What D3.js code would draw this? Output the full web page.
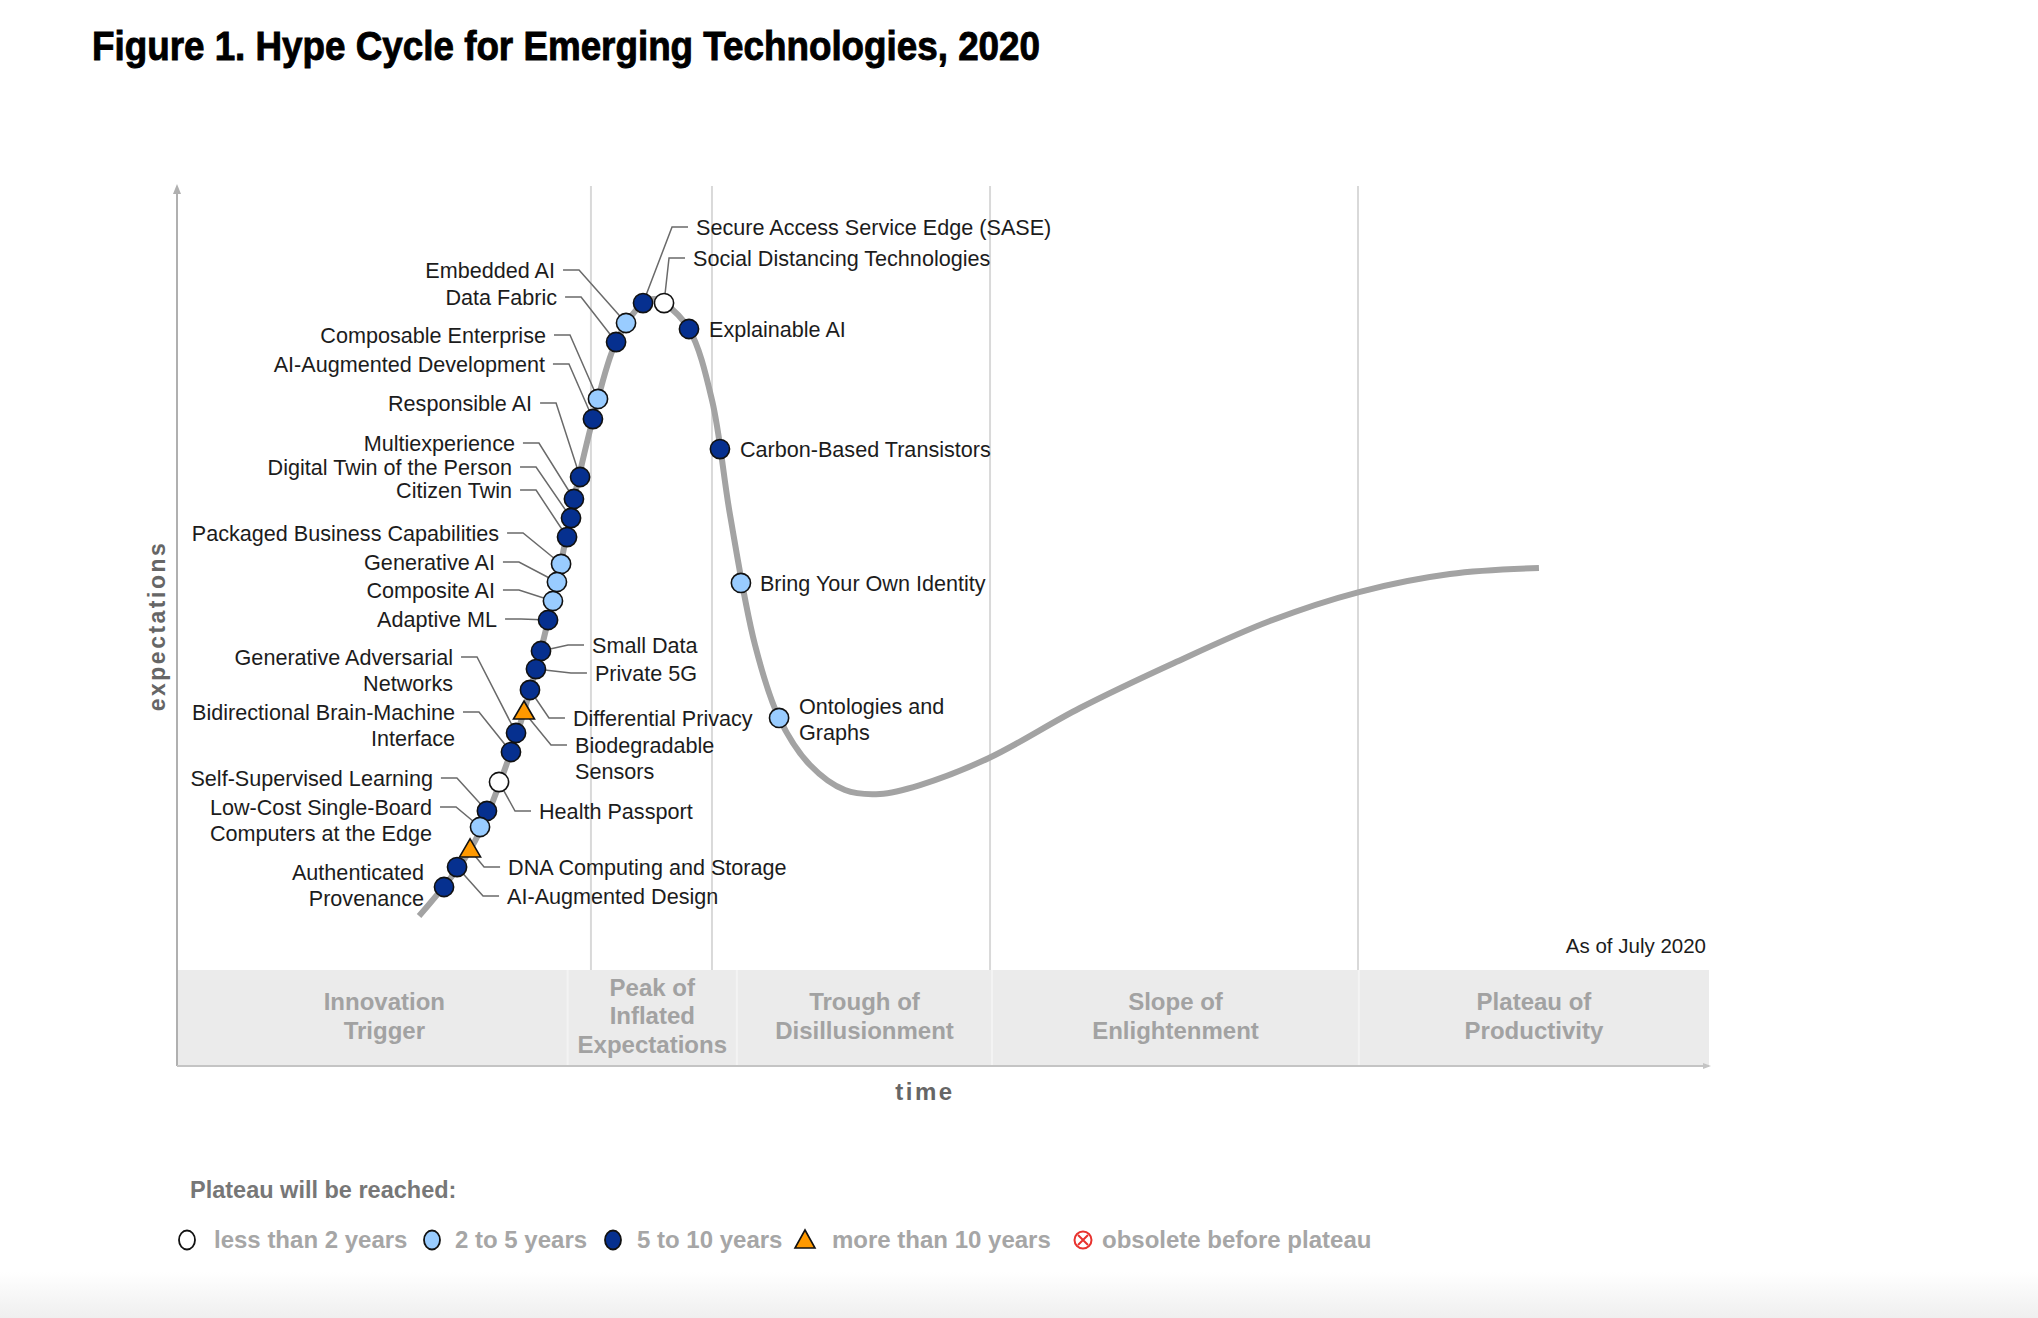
<!DOCTYPE html>
<html><head><meta charset="utf-8">
<script src="https://cdn.jsdelivr.net/npm/d3@7"></script>
<style>
html,body{margin:0;padding:0;background:#fff;}
svg{display:block;}
text{font-family:"Liberation Sans",Arial,Helvetica,sans-serif;}
</style></head><body>
<svg id="chart" width="2038" height="1318"></svg>
<script>
// ---------------- DATA ----------------
const chartTitle = "Figure 1. Hype Cycle for Emerging Technologies, 2020";
const asOfText = "As of July 2020";
const xAxisTitle = "time";
const yAxisTitle = "expectations";
const legendTitle = "Plateau will be reached:";
const categories = ["less than 2 years", "2 to 5 years", "5 to 10 years", "more than 10 years", "obsolete before plateau"];

const phaseNames = [
  ["Innovation", "Trigger"],
  ["Peak of", "Inflated", "Expectations"],
  ["Trough of", "Disillusionment"],
  ["Slope of", "Enlightenment"],
  ["Plateau of", "Productivity"]
];
const phaseBounds = [0, 25.5, 36.55, 53.2, 77.15, 100];   // time units
const gridTimes = [27.02, 34.92, 53.07, 77.09];          // time units

// hype curve (time, expectations)
const curveTime   = [15.80, 19.13, 21.80, 23.43, 24.80, 25.91, 27.15, 28.66, 30.42, 31.20, 31.79, 33.42, 34.92, 36.10, 37.73, 39.30, 41.32, 43.60, 45.89, 48.50, 53.00, 58.94, 65.08, 71.34, 77.15, 83.09, 88.90];
const curveExpect = [17.05, 24.55, 35.68, 45.11, 55.00, 64.43, 73.52, 82.27, 86.70, 87.16, 86.70, 83.75, 75.68, 62.61, 47.84, 39.55, 34.20, 31.36, 30.91, 31.93, 35.00, 40.68, 45.80, 50.57, 53.86, 55.91, 56.59];

// technologies
const techNames = [
  "Secure Access Service Edge (SASE)", "Social Distancing Technologies", "Embedded AI", "Data Fabric",
  "Explainable AI", "Composable Enterprise", "AI-Augmented Development", "Responsible AI",
  "Carbon-Based Transistors", "Multiexperience", "Digital Twin of the Person", "Citizen Twin",
  "Packaged Business Capabilities", "Generative AI", "Composite AI", "Adaptive ML",
  "Bring Your Own Identity", "Small Data", "Private 5G", "Generative Adversarial Networks",
  "Differential Privacy", "Biodegradable Sensors", "Bidirectional Brain-Machine Interface", "Ontologies and Graphs",
  "Self-Supervised Learning", "Health Passport", "Low-Cost Single-Board Computers at the Edge", "DNA Computing and Storage",
  "AI-Augmented Design", "Authenticated Provenance"
];
const techTime = [30.42, 31.79, 29.31, 28.66, 33.42, 27.48, 27.15, 26.31, 35.44, 25.91, 25.72, 25.46, 25.07, 24.80, 24.54, 24.22,
  36.81, 23.76, 23.43, 22.13, 23.04, 22.65, 21.80, 39.30, 20.23, 21.02, 19.78, 19.13, 18.28, 17.43];
const techExpect = [86.70, 86.70, 84.43, 82.27, 83.75, 75.80, 73.52, 66.93, 70.11, 64.43, 62.27, 60.11, 57.05, 55.00, 52.84, 50.68,
  54.89, 47.16, 45.11, 37.84, 42.73, 40.23, 35.68, 39.55, 28.98, 32.27, 27.16, 24.55, 22.61, 20.34];
// index into categories
const techCategory = [2, 0, 1, 2, 2, 1, 2, 2, 2, 2, 2, 2, 1, 1, 1, 2, 1, 2, 2, 2, 2, 3, 2, 1, 2, 0, 1, 3, 2, 2];

// ---------------- LAYOUT (label placement, px offsets from marker) ----------------
const labelLayout = [
  {dx: 53, dy: -76, side: "R", leader: true},
  {dx: 29, dy: -45, side: "R", leader: true},
  {dx: -71, dy: -53, side: "L", leader: true},
  {dx: -59, dy: -45, side: "L", leader: true},
  {dx: 20, dy: 0, side: "R", leader: false},
  {dx: -52, dy: -64, side: "L", leader: true},
  {dx: -48, dy: -55, side: "L", leader: true},
  {dx: -48, dy: -74, side: "L", leader: true},
  {dx: 20, dy: 0, side: "R", leader: false},
  {dx: -59, dy: -56, side: "L", leader: true},
  {dx: -59, dy: -51, side: "L", leader: true},
  {dx: -55, dy: -47, side: "L", leader: true},
  {dx: -62, dy: -31, side: "L", leader: true},
  {dx: -62, dy: -20, side: "L", leader: true},
  {dx: -58, dy: -11, side: "L", leader: true},
  {dx: -51, dy: -1, side: "L", leader: true},
  {dx: 19, dy: 0, side: "R", leader: false},
  {dx: 51, dy: -6, side: "R", leader: true},
  {dx: 59, dy: 4, side: "R", leader: true},
  {dx: -63, dy: -76, side: "L", leader: true, split: 2},
  {dx: 43, dy: 28, side: "R", leader: true},
  {dx: 51, dy: 33, side: "R", leader: true, split: 1},
  {dx: -56, dy: -40, side: "L", leader: true, split: 2},
  {dx: 20, dy: -12, side: "R", leader: false, split: 2},
  {dx: -54, dy: -33, side: "L", leader: true},
  {dx: 40, dy: 29, side: "R", leader: true},
  {dx: -48, dy: -20, side: "L", leader: true, split: 2},
  {dx: 38, dy: 17, side: "R", leader: true},
  {dx: 50, dy: 29, side: "R", leader: true},
  {dx: -20, dy: -15, side: "L", leader: false, split: 1}
];
const phaseLabelShift = [12, 0, 0, 0, 0];
const legendX = [[187, 214], [432, 455], [613, 637], [805, 832], [1083, 1102]];

// ---------------- DRAW ----------------
const svg = d3.select("#chart");
const x = d3.scaleLinear().domain([0, 100]).range([177, 1709]);
const y = d3.scaleLinear().domain([0, 100]).range([1066, 186]);
const bandTop = 970;

const catFill = ["#ffffff", "#99ccff", "#06308f", "#ff9900", "#ffffff"];

// bottom faint gradient
const defs = svg.append("defs");
const grad = defs.append("linearGradient").attr("id", "bottomGrad").attr("x1", 0).attr("x2", 0).attr("y1", 0).attr("y2", 1);
grad.append("stop").attr("offset", "0%").attr("stop-color", "#ffffff");
grad.append("stop").attr("offset", "100%").attr("stop-color", "#efefef");
svg.append("rect").attr("x", 0).attr("y", 1272).attr("width", 2038).attr("height", 46).attr("fill", "url(#bottomGrad)");

// title
svg.append("text").attr("x", 92).attr("y", 60)
  .attr("font-size", 40).attr("font-weight", 700)
  .style("font-family", '"Liberation Sans Narrow","Liberation Sans",Arial,sans-serif')
  .attr("textLength", 948).attr("lengthAdjust", "spacingAndGlyphs")
  .attr("fill", "#000").attr("stroke", "#000").attr("stroke-width", 0.9)
  .text(chartTitle);

// phase band
const bands = svg.append("g");
phaseNames.forEach((p, i) => {
  bands.append("rect")
    .attr("x", x(phaseBounds[i])).attr("y", bandTop)
    .attr("width", x(phaseBounds[i + 1]) - x(phaseBounds[i])).attr("height", y(0) - bandTop)
    .attr("fill", "#ebebeb");
});
phaseBounds.slice(1, -1).forEach(b => {
  bands.append("line").attr("x1", x(b)).attr("x2", x(b)).attr("y1", bandTop).attr("y2", y(0))
    .attr("stroke", "#f3f3f3").attr("stroke-width", 2);
});
phaseNames.forEach((p, i) => {
  const cx = (x(phaseBounds[i]) + x(phaseBounds[i + 1])) / 2 + phaseLabelShift[i];
  const n = p.length;
  const lh = 28.5;
  const cy = (bandTop + y(0)) / 2 - 2;
  const t = bands.append("text").attr("text-anchor", "middle")
    .attr("font-size", 24).attr("font-weight", 700).attr("fill", "#a2a2a2");
  p.forEach((line, j) => {
    t.append("tspan").attr("x", cx).attr("y", cy + (j - (n - 1) / 2) * lh).attr("dy", "0.35em").text(line);
  });
});

// grid lines
svg.append("g").selectAll("line").data(gridTimes).join("line")
  .attr("x1", d => x(d)).attr("x2", d => x(d))
  .attr("y1", y(100)).attr("y2", bandTop)
  .attr("stroke", "#d9d9d9").attr("stroke-width", 2);

// axes
svg.append("line").attr("x1", x(0)).attr("x2", x(0)).attr("y1", y(0)).attr("y2", y(100) + 4)
  .attr("stroke", "#b0b0b0").attr("stroke-width", 2);
svg.append("path").attr("d", `M${x(0)},${y(100) - 2} L${x(0) - 4},${y(100) + 8} L${x(0) + 4},${y(100) + 8} Z`).attr("fill", "#b0b0b0");
svg.append("line").attr("x1", x(0)).attr("x2", x(100)).attr("y1", y(0)).attr("y2", y(0))
  .attr("stroke", "#c4c4c4").attr("stroke-width", 2);
svg.append("path").attr("d", `M${x(100) + 2},${y(0)} L${x(100) - 6},${y(0) - 3} L${x(100) - 6},${y(0) + 3} Z`).attr("fill", "#c4c4c4");

// axis titles
svg.append("text").attr("x", 925).attr("y", 1092).attr("dy", "0.35em")
  .attr("text-anchor", "middle").attr("font-size", 24).attr("font-weight", 700)
  .attr("letter-spacing", 2.5).attr("fill", "#666").text(xAxisTitle);
svg.append("text").attr("transform", `translate(157,626) rotate(-90)`).attr("dy", "0.35em")
  .attr("text-anchor", "middle").attr("font-size", 23).attr("font-weight", 700)
  .attr("letter-spacing", 2.5).attr("fill", "#666").text(yAxisTitle);

svg.append("text").attr("x", 1706).attr("y", 946).attr("dy", "0.35em").attr("text-anchor", "end")
  .attr("font-size", 20.5).attr("fill", "#1c1c1c").text(asOfText);

// hype curve
const curvePts = curveTime.map((t, i) => [t, curveExpect[i]]);
svg.append("path").datum(curvePts)
  .attr("d", d3.line().x(d => x(d[0])).y(d => y(d[1])).curve(d3.curveCatmullRom.alpha(0.5)))
  .attr("fill", "none").attr("stroke", "#a3a3a3").attr("stroke-width", 6).attr("stroke-linecap", "butt");

// technologies
const techs = techNames.map((name, i) => ({
  name, t: techTime[i], e: techExpect[i], cat: techCategory[i], lay: labelLayout[i]
}));

// leaders
const gLead = svg.append("g");
techs.forEach(d => {
  if (!d.lay.leader) return;
  const cx = x(d.t), cy = y(d.e);
  const tx = cx + d.lay.dx, ty = cy + d.lay.dy;
  const s = d.lay.side === "R" ? -1 : 1;
  const pts = [[tx + s * 8, ty], [tx + s * 24, ty], [cx, cy]];
  gLead.append("path").attr("d", d3.line()(pts))
    .attr("fill", "none").attr("stroke", "#6a6a6a").attr("stroke-width", 1.5);
});

// markers
const gMark = svg.append("g");
techs.forEach(d => {
  const cx = x(d.t), cy = y(d.e);
  if (d.cat === 3) {
    gMark.append("path").attr("d", `M${cx},${cy - 11} L${cx + 10.5},${cy + 7} L${cx - 10.5},${cy + 7} Z`)
      .attr("fill", catFill[3]).attr("stroke", "#111").attr("stroke-width", 1.6).attr("stroke-linejoin", "miter");
  } else {
    gMark.append("circle").attr("cx", cx).attr("cy", cy).attr("r", 9.6)
      .attr("fill", catFill[d.cat]).attr("stroke", "#111").attr("stroke-width", 1.6);
  }
});

// labels
const gLab = svg.append("g");
techs.forEach(d => {
  const cx = x(d.t), cy = y(d.e);
  const tx = cx + d.lay.dx, ty = cy + d.lay.dy;
  const words = d.name.split(" ");
  const lines = d.lay.split ? [words.slice(0, d.lay.split).join(" "), words.slice(d.lay.split).join(" ")] : [d.name];
  const t = gLab.append("text").attr("font-size", 21.6).attr("fill", "#1c1c1c")
    .attr("text-anchor", d.lay.side === "R" ? "start" : "end");
  lines.forEach((ln, j) => {
    t.append("tspan").attr("x", tx).attr("y", ty + j * 26.5).attr("dy", "0.35em").text(ln);
  });
});

// legend
svg.append("text").attr("x", 190).attr("y", 1190).attr("dy", "0.35em")
  .attr("font-size", 23.5).attr("font-weight", 700).attr("fill", "#777").text(legendTitle);
const gLeg = svg.append("g");
const ly = 1240;
categories.forEach((c, i) => {
  const sx = legendX[i][0];
  if (i === 3) {
    gLeg.append("path").attr("d", `M${sx},${ly - 10} L${sx + 10},${ly + 8} L${sx - 10},${ly + 8} Z`)
      .attr("fill", catFill[3]).attr("stroke", "#111").attr("stroke-width", 1.6);
  } else if (i === 4) {
    gLeg.append("circle").attr("cx", sx).attr("cy", ly).attr("r", 8.5).attr("fill", "#fff")
      .attr("stroke", "#e8322e").attr("stroke-width", 2);
    gLeg.append("path").attr("d", `M${sx - 5},${ly - 5} L${sx + 5},${ly + 5} M${sx + 5},${ly - 5} L${sx - 5},${ly + 5}`)
      .attr("stroke", "#e8322e").attr("stroke-width", 2);
  } else {
    gLeg.append("ellipse").attr("cx", sx).attr("cy", ly).attr("rx", 8).attr("ry", 9.5)
      .attr("fill", catFill[i]).attr("stroke", "#111").attr("stroke-width", 1.8);
  }
  gLeg.append("text").attr("x", legendX[i][1]).attr("y", ly).attr("dy", "0.35em")
    .attr("font-size", 24).attr("font-weight", 700).attr("fill", "#a6a6a6").text(c);
});
</script>
</body></html>
